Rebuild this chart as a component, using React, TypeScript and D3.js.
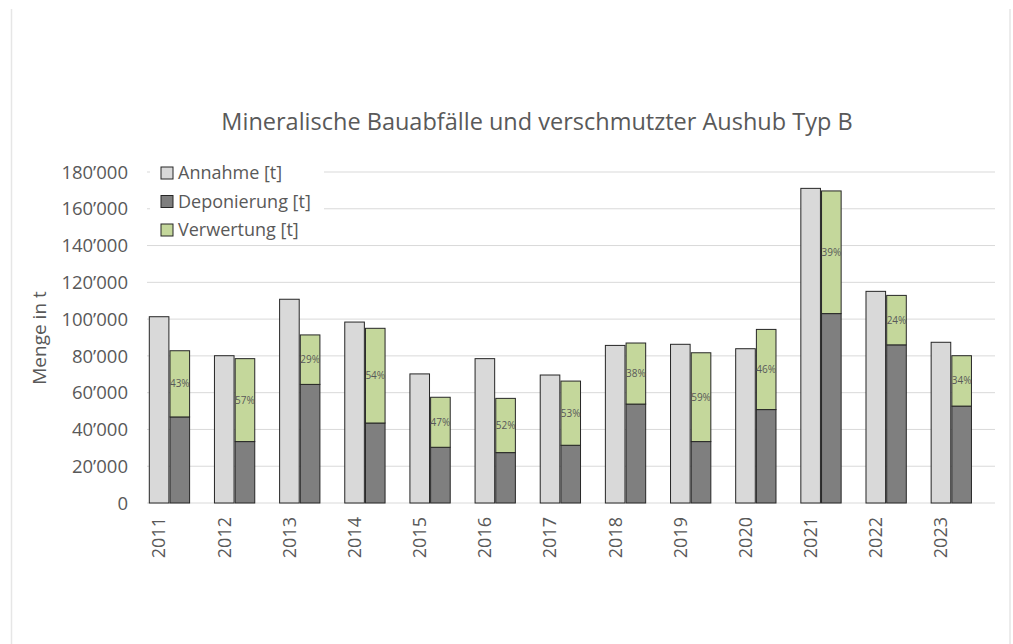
import * as d3 from 'd3';

const years = ['2011', '2012', '2013', '2014', '2015', '2016', '2017', '2018', '2019', '2020', '2021', '2022', '2023'];
const annahme = [101300, 80100, 110800, 98400, 70200, 78500, 69600, 85700, 86300, 83900, 171100, 115100, 87400];
const deponierung = [46800, 33400, 64500, 43500, 30300, 27400, 31400, 53800, 33400, 50800, 103000, 86000, 52700];
const verwertung = [36000, 45100, 26900, 51500, 27200, 29500, 34900, 33200, 48300, 43600, 66700, 26900, 27400];
const yTicks = [0, 20000, 40000, 60000, 80000, 100000, 120000, 140000, 160000, 180000];
const legendItems = [
  { label: 'Annahme [t]', color: '#d9d9d9' },
  { label: 'Deponierung [t]', color: '#7f7f7f' },
  { label: 'Verwertung [t]', color: '#c4d79b' },
];

const W = 1013;
const H = 644;
const FONT = '"Open Sans", sans-serif';
const TXT = '#595959';
const GRID = '#d9d9d9';
const EDGE = '#262626';

const loc = d3.formatLocale({ decimal: '.', thousands: '’', grouping: [3], currency: ['', ''] });
const fmt = loc.format(',');
const pct = d3.format('.0%');

export default function App() {
  const x = d3.scaleBand<string>().domain(years).range([147, 994]);
  const y = d3.scaleLinear().domain([0, 180000]).range([503, 172]);
  const bw = 19.6;

  return (
    <svg width={W} height={H} style={{ position: 'absolute', left: 0, top: 0, background: '#fff' }} fontFamily={FONT}>
      <rect x={0} y={0} width={W} height={H} fill="#fff" />
      <line x1={11.5} x2={11.5} y1={9} y2={H} stroke="#e6e6e6" strokeWidth={1.5} />
      <line x1={1010} x2={1010} y1={9} y2={H} stroke="#e6e6e6" strokeWidth={1.5} />

      <text x={537} y={130} textAnchor="middle" fontSize={23.5} fill={TXT}>
        Mineralische Bauabfälle und verschmutzter Aushub Typ B
      </text>

      {yTicks.map((t) => (
        <g key={t}>
          <line x1={147} x2={995} y1={y(t)} y2={y(t)} stroke={GRID} strokeWidth={1} />
          <text x={128} y={y(t)} dy="0.36em" textAnchor="end" fontSize={18.5} fill={TXT}>
            {fmt(t)}
          </text>
        </g>
      ))}

      <text transform={`translate(46,338) rotate(-90)`} textAnchor="middle" fontSize={19} fill={TXT}>
        Menge in t
      </text>

      {years.map((yr, i) => {
        const x0 = x(yr)!;
        const total = deponierung[i] + verwertung[i];
        const xs = x0 + 23;
        return (
          <g key={yr}>
            <rect x={x0 + 2.3} y={y(annahme[i])} width={bw} height={y(0) - y(annahme[i])} fill="#d9d9d9" stroke={EDGE} strokeWidth={1} />
            <rect x={xs} y={y(deponierung[i])} width={bw} height={y(0) - y(deponierung[i])} fill="#7f7f7f" stroke={EDGE} strokeWidth={1} />
            <rect x={xs} y={y(total)} width={bw} height={y(deponierung[i]) - y(total)} fill="#c4d79b" stroke={EDGE} strokeWidth={1} />
            <text x={xs + bw / 2} y={(y(total) + y(deponierung[i])) / 2} dy="0.35em" textAnchor="middle" fontSize={10} fill={TXT}>
              {pct(verwertung[i] / total)}
            </text>
            <text transform={`translate(${x0 + 12},517) rotate(-90)`} dy="0.36em" textAnchor="end" fontSize={18} fill={TXT}>
              {yr}
            </text>
          </g>
        );
      })}

      <rect x={150} y={157} width={174} height={87} fill="#fff" />
      {legendItems.map((d, i) => (
        <g key={d.label} transform={`translate(161,${173 + i * 28.5})`}>
          <rect x={0} y={-6} width={12} height={12} fill={d.color} stroke={EDGE} strokeWidth={1} />
          <text x={17} y={0} dy="0.35em" fontSize={18} fill={TXT}>
            {d.label}
          </text>
        </g>
      ))}
    </svg>
  );
}
